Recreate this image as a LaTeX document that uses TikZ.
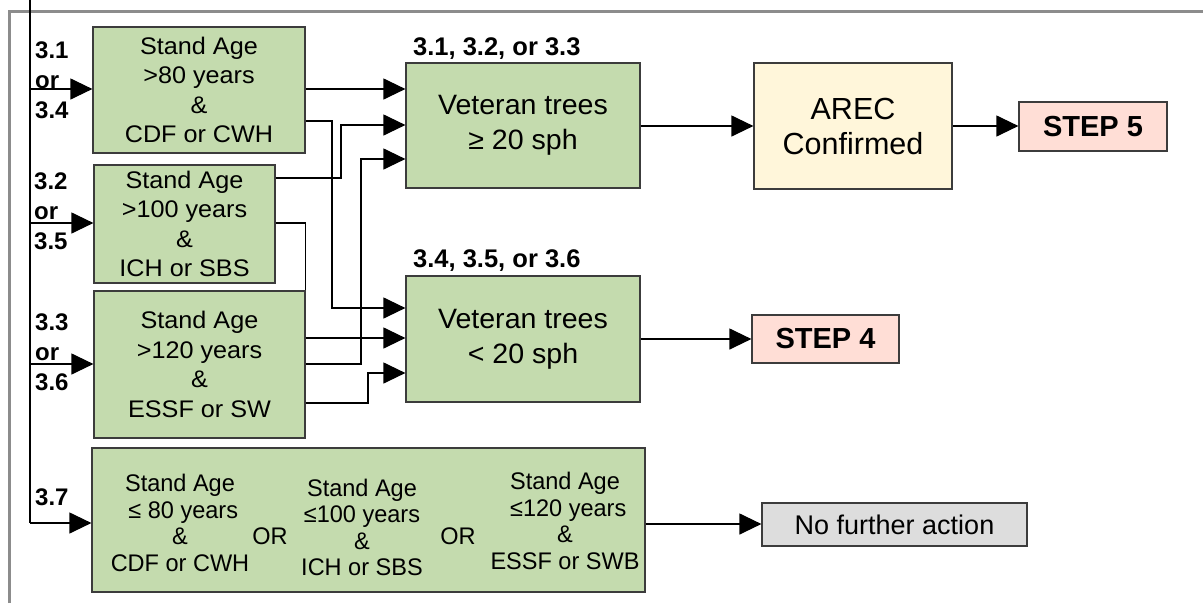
\documentclass[tikz,border=0pt]{standalone}
\usepackage{fontspec}
\setmainfont{Liberation Sans}
\newfontfamily\fA{Liberation Sans}[FakeStretch=1.05]
\newfontfamily\fL{Liberation Sans}[FakeStretch=1.0]
\newfontfamily\fV{Liberation Sans}[FakeStretch=1.02]
\newfontfamily\fB{Liberation Sans}[FakeStretch=0.98]
\usetikzlibrary{arrows.meta}
\definecolor{boxgreen}{RGB}{196,219,174}
\definecolor{boxcream}{RGB}{255,246,218}
\definecolor{boxpink}{RGB}{255,222,214}
\definecolor{boxgrey}{RGB}{221,221,221}
\definecolor{edgegrey}{RGB}{60,60,60}
\definecolor{framegrey}{RGB}{140,140,140}
\tikzset{
  box/.style={draw=edgegrey, line width=1.2pt, inner sep=0pt, align=center},
  gbox/.style={box, fill=boxgreen},
  agetext/.style={font=\fA\fontsize{24}{29.5}\selectfont},
  vettext/.style={font=\fV\fontsize{28}{35}\selectfont},
  lab/.style={font=\fL\bfseries\fontsize{24}{30}\selectfont, align=left, inner sep=0pt},
  btext/.style={font=\fB\fontsize{24}{26.5}\selectfont, align=center, inner sep=0pt},
  wire/.style={line width=1.2pt, black},
  conn/.style={wire, -{Triangle[length=22pt,width=21pt]}},
  frame/.style={line width=3pt, framegrey}
}
\begin{document}
\begin{tikzpicture}[x=1pt,y=-1pt]
\useasboundingbox (0,0) rectangle (1203,603);
% frame
\draw[frame] (9,603) -- (9,11) -- (1203,11);
% boxes
\node[gbox, agetext, minimum width=212pt, minimum height=126pt] (a1) at (199,90) {Stand Age\\>80 years\\\&\\CDF or CWH};
\node[gbox, agetext, minimum width=181pt, minimum height=118pt] (a2) at (184.5,224) {Stand Age\\>100 years\\\&\\ICH or SBS};
\node[gbox, agetext, minimum width=211pt, minimum height=147pt] (a3) at (199.5,364.5) {Stand Age\\>120 years\\\&\\ESSF or SW};
\node[gbox, minimum width=553pt, minimum height=144pt] (b) at (368.5,520) {};
\node[gbox, vettext, minimum width=234pt, minimum height=125pt] (v1) at (523,125.5) {Veteran trees\\≥ 20 sph};
\node[gbox, vettext, minimum width=234pt, minimum height=126pt] (v2) at (523,339) {Veteran trees\\< 20 sph};
\node[box, fill=boxcream, font=\fontsize{30.5}{35}\selectfont, minimum width=198pt, minimum height=126pt] (arec) at (853,126) {AREC\\Confirmed};
\node[box, fill=boxpink, font=\bfseries\fontsize{29}{30}\selectfont, minimum width=148pt, minimum height=49pt] (s5) at (1093,126.5) {STEP 5};
\node[box, fill=boxpink, font=\bfseries\fontsize{29}{30}\selectfont, minimum width=147pt, minimum height=48pt] (s4) at (825.5,339) {STEP 4};
\node[box, fill=boxgrey, font=\fontsize{27}{30}\selectfont, minimum width=265pt, minimum height=43pt] (nfa) at (894.5,524.5) {No further action};
% bottom box text
\node[btext] (c1) at (180,523) {Stand Age\\\ ≤ 80 years\\\&\\CDF or CWH};
\node[btext] (c2) at (362,527.5) {Stand Age\\≤100 years\\\&\\ICH or SBS};
\node[btext] (c3) at (565,521) {Stand Age\\\ ≤120 years\\\&\\ESSF or SWB};
\node[btext] (or1) at (270,536) {OR};
\node[btext] (or2) at (458,536) {OR};
% labels
\node[lab, anchor=west] (l1) at (35,80) {3.1\\or\\3.4};
\node[lab, anchor=west] (l2) at (34,211) {3.2\\or\\3.5};
\node[lab, anchor=west] (l3) at (35,352) {3.3\\or\\3.6};
\node[lab, anchor=west] (l4) at (35,497) {3.7};
\node[lab, font=\fL\bfseries\fontsize{25.5}{26}\selectfont, anchor=west] (h1) at (413,49) {3.1, 3.2, or 3.3};
\node[lab, font=\fL\bfseries\fontsize{25.5}{26}\selectfont, anchor=west] (h2) at (413,261) {3.4, 3.5, or 3.6};
% entry line
\coordinate (top) at (30,0);
\coordinate (e1) at (30,89);
\coordinate (e2) at (30,223);
\coordinate (e3) at (30,364);
\coordinate (e4) at (30,523);
\draw[wire] (top) -- (e4);
\draw[conn] (e1) -- (a1.west |- e1);
\draw[conn] (e2) -- (a2.west |- e2);
\draw[conn] (e3) -- (a3.west |- e3);
\draw[conn] (e4) -- (b.west |- e4);
% routing
\draw[conn] (a1.east |- 0,89) -- (v1.west |- 0,89);
\draw[conn] (a1.east |- 0,121) -- (332,121) -- (332,308) -- (v2.west |- 0,308);
\draw[conn] (a2.east |- 0,178) -- (341,178) -- (341,125) -- (v1.west |- 0,125);
\draw[wire] (a2.east |- 0,223) -- (a3.north east |- 0,223) -- (a3.north east);
\draw[conn] (a3.east |- 0,338) -- (v2.west |- 0,338);
\draw[conn] (a3.east |- 0,364) -- (361,364) -- (361,159) -- (v1.west |- 0,159);
\draw[conn] (a3.east |- 0,403) -- (368,403) -- (368,373) -- (v2.west |- 0,373);
\draw[conn] (v1.east |- 0,126) -- (arec.west |- 0,126);
\draw[conn] (arec.east |- 0,126) -- (s5.west |- 0,126);
\draw[conn] (v2.east |- 0,339) -- (s4.west |- 0,339);
\draw[conn] (b.east |- 0,524) -- (nfa.west |- 0,524);
\end{tikzpicture}
\end{document}
